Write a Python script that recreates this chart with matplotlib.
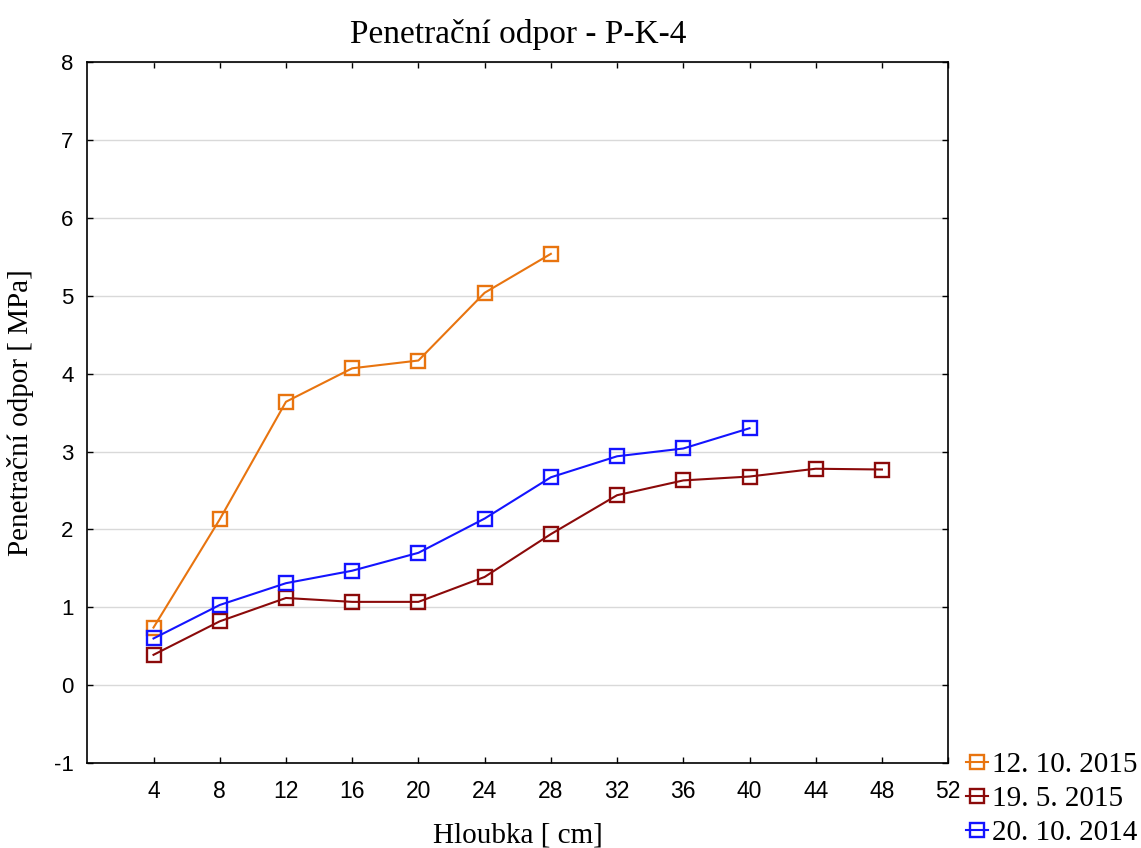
import numpy as np
import matplotlib
matplotlib.use("Agg")
import matplotlib.pyplot as plt

plt.rcParams['axes.unicode_minus'] = False

# hloubka [cm] a penetrační odpor [MPa]
depth = [4, 8, 12, 16, 20, 24, 28, 32, 36, 40, 44, 48]
odpor_2015_10 = [0.74, 2.13, 3.64, 4.07, 4.17, 5.04, 5.54]
odpor_2015_05 = [0.39, 0.82, 1.12, 1.07, 1.07, 1.39, 1.94, 2.44, 2.63, 2.68, 2.78, 2.77]
odpor_2014_10 = [0.60, 1.03, 1.31, 1.47, 1.70, 2.14, 2.67, 2.94, 3.04, 3.30]
labels = ['12. 10. 2015', '19. 5. 2015', '20. 10. 2014']
colors = ['#E8740F', '#8B0A0A', '#1414FF']

xticks = [4, 8, 12, 16, 20, 24, 28, 32, 36, 40, 44, 48, 52]
yticks = [-1, 0, 1, 2, 3, 4, 5, 6, 7, 8]

serif = 'Liberation Serif'
sans = 'Liberation Sans'

fig = plt.figure(figsize=(11.41, 8.48), dpi=100)
ax = fig.add_axes([0.0765, 0.1002, 0.7545, 0.8263])

series = [odpor_2015_10, odpor_2015_05, odpor_2014_10]
for vals, lab, col in zip(series, labels, colors):
    ax.plot(depth[:len(vals)], vals, color=col, lw=1.5, marker='s', ms=10,
            mfc='none', mec=col, mew=1.7, label=lab)

ax.set_xlim(0, 52)
ax.set_ylim(-1, 8)
ax.set_xticks(xticks)
ax.set_yticks(yticks)
ax.grid(axis='y', color='#d9d9d9', lw=1)
ax.set_axisbelow(True)
ax.tick_params(direction='in', length=4, width=1, top=True, right=True)
ax.tick_params(axis='x', labelsize=16.5, pad=12)
ax.tick_params(axis='y', labelsize=16, pad=10)
for lab in ax.get_xticklabels() + ax.get_yticklabels():
    lab.set_fontfamily(sans)
for s in ax.spines.values():
    s.set_linewidth(1.2)

ax.set_title('Penetrační odpor - P-K-4', family=serif, fontsize=24, pad=14)
ax.set_xlabel('Hloubka [ cm]', family=serif, fontsize=21, labelpad=14)
ax.set_ylabel('Penetrační odpor [ MPa]', family=serif, fontsize=21, labelpad=14)

leg = ax.legend(loc='lower left', bbox_to_anchor=(1.0, -0.143), frameon=False,
                prop={'family': serif, 'size': 21}, handlelength=0.75,
                handletextpad=0.15, labelspacing=0.25, borderpad=0,
                borderaxespad=0.6)

fig.savefig('out.png', dpi=100)
